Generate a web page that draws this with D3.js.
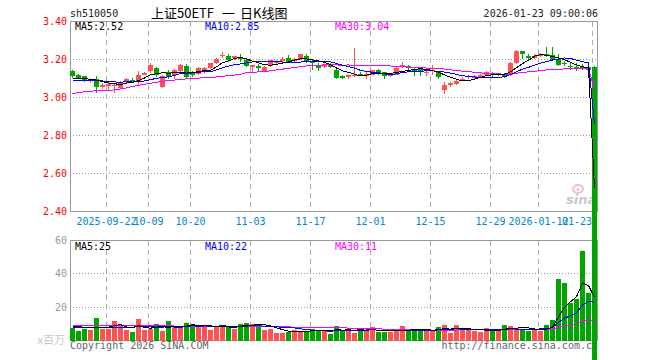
<!DOCTYPE html>
<html>
<head>
<meta charset="utf-8">
<script src="https://cdn.jsdelivr.net/npm/d3@7"></script>
<style>
    body { margin: 0; background: #fff; }
    svg { display: block; }
    text { font-family: "DejaVu Sans Mono", monospace; font-size: 10px; }
</style>
</head>
<body>
<div id="chart"></div>
<script>
// daily K-line, 88 trading days (2025-09-12 .. 2026-01-23)
var openPrices = [3.139, 3.118, 3.111, 3.091, 3.100, 3.056, 3.061, 3.061, 3.051, 3.079,
    3.092, 3.079, 3.120, 3.138, 3.153, 3.056, 3.135, 3.117, 3.138, 3.167,
    3.131, 3.126, 3.132, 3.153, 3.179, 3.217, 3.217, 3.209, 3.210, 3.200,
    3.161, 3.167, 3.138, 3.167, 3.180, 3.193, 3.210, 3.190, 3.202, 3.217,
    3.191, 3.167, 3.161, 3.170, 3.144, 3.112, 3.109, 3.114, 3.126, 3.114,
    3.121, 3.144, 3.132, 3.114, 3.121, 3.158, 3.165, 3.149, 3.153, 3.130,
    3.139, 3.135, 3.039, 3.065, 3.072, 3.095, 3.108, 3.105, 3.109, 3.118,
    3.126, 3.118, 3.121, 3.118, 3.182, 3.244, 3.218, 3.210, 3.219, 3.228,
    3.223, 3.205, 3.183, 3.165, 3.158, 3.158, 3.158, 3.161];
var highPrices = [3.147, 3.123, 3.114, 3.104, 3.112, 3.074, 3.074, 3.075, 3.086, 3.104,
    3.104, 3.140, 3.133, 3.180, 3.158, 3.117, 3.144, 3.149, 3.175, 3.174,
    3.138, 3.158, 3.158, 3.184, 3.210, 3.240, 3.230, 3.219, 3.230, 3.205,
    3.172, 3.174, 3.165, 3.200, 3.198, 3.212, 3.222, 3.210, 3.231, 3.231,
    3.196, 3.179, 3.177, 3.180, 3.150, 3.116, 3.121, 3.261, 3.135, 3.135,
    3.147, 3.149, 3.135, 3.126, 3.161, 3.188, 3.170, 3.156, 3.156, 3.144,
    3.170, 3.140, 3.082, 3.082, 3.093, 3.109, 3.118, 3.118, 3.122, 3.140,
    3.135, 3.130, 3.130, 3.187, 3.250, 3.246, 3.228, 3.231, 3.235, 3.267,
    3.267, 3.231, 3.193, 3.179, 3.179, 3.175, 3.175, 3.165];
var lowPrices = [3.104, 3.095, 3.083, 3.074, 3.026, 3.047, 3.040, 3.026, 3.045, 3.075,
    3.075, 3.058, 3.116, 3.130, 3.110, 3.052, 3.100, 3.100, 3.130, 3.100,
    3.108, 3.120, 3.128, 3.150, 3.175, 3.210, 3.188, 3.196, 3.188, 3.163,
    3.136, 3.140, 3.135, 3.163, 3.177, 3.187, 3.183, 3.185, 3.198, 3.184,
    3.147, 3.140, 3.156, 3.155, 3.100, 3.098, 3.098, 3.109, 3.114, 3.100,
    3.117, 3.121, 3.100, 3.109, 3.117, 3.154, 3.144, 3.114, 3.114, 3.114,
    3.121, 3.095, 3.016, 3.056, 3.065, 3.086, 3.100, 3.100, 3.105, 3.114,
    3.109, 3.114, 3.105, 3.114, 3.178, 3.205, 3.190, 3.205, 3.214, 3.214,
    3.196, 3.165, 3.167, 3.144, 3.142, 3.144, 3.135, 0];
var closePrices = [3.114, 3.100, 3.090, 3.100, 3.056, 3.068, 3.070, 3.068, 3.079, 3.095,
    3.086, 3.121, 3.130, 3.170, 3.117, 3.114, 3.108, 3.144, 3.170, 3.108,
    3.117, 3.153, 3.153, 3.179, 3.205, 3.226, 3.200, 3.217, 3.205, 3.167,
    3.170, 3.157, 3.161, 3.196, 3.188, 3.205, 3.188, 3.205, 3.228, 3.191,
    3.179, 3.157, 3.173, 3.163, 3.105, 3.105, 3.118, 3.121, 3.118, 3.126,
    3.144, 3.126, 3.114, 3.121, 3.156, 3.170, 3.153, 3.140, 3.139, 3.135,
    3.144, 3.109, 3.068, 3.074, 3.086, 3.100, 3.114, 3.111, 3.118, 3.135,
    3.118, 3.126, 3.114, 3.182, 3.244, 3.228, 3.210, 3.221, 3.228, 3.221,
    3.200, 3.170, 3.176, 3.158, 3.153, 3.151, 3.147, 0];
// volume, millions
var volumes = [7.5, 5.6, 6.8, 6.2, 13.5, 6.8, 6.8, 11.5, 9.1, 6.2,
    5.0, 12.7, 6.2, 6.8, 9.7, 5.6, 11.5, 8.1, 7.5, 10.7,
    9.5, 9.1, 8.7, 6.2, 8.1, 9.5, 8.1, 6.8, 10.1, 10.7,
    10.1, 10.1, 6.2, 6.8, 4.8, 4.8, 5.2, 6.2, 5.2, 5.6,
    7.2, 6.2, 6.2, 4.2, 8.6, 5.8, 7.2, 4.8, 6.6, 6.2,
    7.9, 5.0, 5.0, 5.0, 6.4, 8.6, 6.0, 6.0, 6.0, 6.6,
    6.0, 7.9, 9.1, 4.6, 9.1, 6.2, 6.6, 6.0, 5.0, 7.4,
    5.6, 6.0, 9.5, 8.7, 7.5, 6.4, 5.6, 6.4, 6.0, 9.6,
    12.2, 36.8, 34.8, 22.8, 24.8, 53.6, 28.6, 0];

// moving averages before a full window is on screen
var ma5Head = [3.100, 3.100, 3.100, 3.095];
var ma10Head = [3.090, 3.090, 3.088, 3.088, 3.087, 3.087, 3.085, 3.082, 3.080];
var ma30Head = [3.021, 3.025, 3.030, 3.033, 3.036, 3.037, 3.038, 3.040, 3.045, 3.050,
    3.058, 3.064, 3.070, 3.075, 3.080, 3.085, 3.090, 3.092, 3.095, 3.098,
    3.100, 3.102, 3.104, 3.106, 3.108, 3.112, 3.115, 3.118, 3.122];
var volMa5Head = [8.2, 8.2, 8.0, 7.8];
var volMa10Head = [7.6, 7.6, 7.6, 7.6, 7.7, 7.7, 7.8, 7.8, 7.9];
var volMa30Head = [9.0, 9.0, 9.0, 9.0, 9.0, 9.0, 9.0, 8.9, 8.9, 8.9,
    8.9, 8.9, 8.8, 8.8, 8.8, 8.8, 8.8, 8.7, 8.7, 8.7,
    8.7, 8.7, 8.6, 8.6, 8.6, 8.6, 8.5, 8.5, 8.5];

var priceTicks = [3.40, 3.20, 3.00, 2.80, 2.60, 2.40];
var volTicks = [60, 40, 20];
var dateTickIndex = [6, 13, 20, 30, 40, 50, 60, 70, 78, 87];
var dateTickLabels = ['2025-09-22', '10-09', '10-20', '11-03', '11-17', '12-01', '12-15', '12-29', '2026-01-12', '01-23'];
var priceMaLabels = ['MA5:2.52', 'MA10:2.85', 'MA30:3.04'];
var volMaLabels = ['MA5:25', 'MA10:22', 'MA30:11'];
var titleParts = ['上证50ETF', '一', '日K线图'];

(function () {
    "use strict";

    var config = {
        width: 660,
        height: 360,
        left: 70,
        step: 6,
        barWidth: 5,
        main: { top: 21.5, bottom: 211.5 },
        vol: { top: 240.5, bottom: 340.5 },
        red: '#ff5252',
        green: '#00a600',
        maColors: ['#000000', '#0000ff', '#ff00ff'],
        grid: '#aaaaaa'
    };

    function movingAvg(values, n, head) {
        return values.map(function (v, i) {
            if (i < n - 1) return head[i];
            return d3.mean(values.slice(i - n + 1, i + 1));
        });
    }

    function draw() {
        var n = closePrices.length;
        var right = config.left + config.step * (n - 1) + config.barWidth + 0.5;

        var svg = d3.select('#chart').append('svg')
            .attr('width', config.width)
            .attr('height', config.height);

        var x = d3.scaleLinear()
            .domain([0, n])
            .range([config.left, config.left + config.step * n]);
        var y = d3.scaleLinear()
            .domain([2.40, 3.40])
            .range([config.main.bottom, config.main.top]);
        var yVol = d3.scaleLinear()
            .domain([0, 60])
            .range([config.vol.bottom, config.vol.top]);

        var isUp = function (i) { return closePrices[i] >= openPrices[i]; };
        var idx = d3.range(n);

        // grid
        var grid = svg.append('g').attr('shape-rendering', 'crispEdges');
        grid.selectAll('.hgrid')
            .data(priceTicks.slice(1, -1))
            .enter().append('line')
            .attr('x1', config.left).attr('x2', right)
            .attr('y1', function (d) { return y(d); })
            .attr('y2', function (d) { return y(d); })
            .attr('stroke', '#999').attr('stroke-dasharray', '1,2');
        grid.selectAll('.vgrid-h')
            .data([40, 20])
            .enter().append('line')
            .attr('x1', config.left).attr('x2', right)
            .attr('y1', function (d) { return yVol(d); })
            .attr('y2', function (d) { return yVol(d); })
            .attr('stroke', '#999').attr('stroke-dasharray', '1,2');
        [config.main, config.vol].forEach(function (p) {
            grid.selectAll(null)
                .data(dateTickIndex)
                .enter().append('line')
                .attr('x1', function (d) { return x(d) + 0.5; })
                .attr('x2', function (d) { return x(d) + 0.5; })
                .attr('y1', p.top).attr('y2', p.bottom)
                .attr('stroke', config.grid).attr('stroke-dasharray', '5,4');
            grid.append('rect')
                .attr('x', config.left + 0.5).attr('y', p.top)
                .attr('width', right - config.left - 0.5).attr('height', p.bottom - p.top)
                .attr('fill', 'none').attr('stroke', '#999');
        });

        // header
        svg.append('text').attr('x', 70).attr('y', 17).attr('font-size', '11px')
            .attr('fill', '#222').text('sh510050');
        var titleX = [151, 222, 240];
        titleParts.forEach(function (t, i) {
            svg.append('text').attr('x', titleX[i]).attr('y', 18)
                .style('font-family', '"Noto Sans CJK SC", sans-serif').style('font-size', '13px')
                .attr('fill', '#000').text(t);
        });
        svg.append('text').attr('x', 598).attr('y', 17).attr('text-anchor', 'end')
            .attr('font-size', '11px').attr('fill', '#222').text('2026-01-23 09:00:06');

        // axis labels
        svg.selectAll('.plabel')
            .data(priceTicks)
            .enter().append('text')
            .attr('x', 67).attr('y', function (d) { return y(d); })
            .attr('dy', '0.35em').attr('text-anchor', 'end')
            .attr('fill', '#ff0000')
            .text(function (d) { return d3.format('.2f')(d); });
        svg.selectAll('.vlabel')
            .data(volTicks)
            .enter().append('text')
            .attr('x', 67).attr('y', function (d) { return yVol(d); })
            .attr('dy', '0.35em').attr('text-anchor', 'end')
            .attr('fill', '#999')
            .text(function (d) { return d; });
        svg.append('text').attr('x', 65).attr('y', yVol(0)).attr('dy', '0.35em')
            .attr('text-anchor', 'end')
            .style('font-family', '"Noto Sans CJK SC", sans-serif').style('font-size', '11px')
            .attr('fill', '#c8c8c8').text('x百万');
        svg.selectAll('.dlabel')
            .data(dateTickIndex)
            .enter().append('text')
            .attr('x', function (d, i) { return i === dateTickIndex.length - 1 ? x(d) : x(d) + 0.5; })
            .attr('y', 225)
            .attr('text-anchor', function (d, i) { return i === dateTickIndex.length - 1 ? 'end' : 'middle'; })
            .attr('fill', '#0088d0')
            .text(function (d, i) { return dateTickLabels[i]; });

        // legends
        var legendX = [75, 205, 335];
        priceMaLabels.forEach(function (t, i) {
            svg.append('text').attr('x', legendX[i]).attr('y', 30)
                .attr('fill', config.maColors[i]).text(t);
        });
        volMaLabels.forEach(function (t, i) {
            svg.append('text').attr('x', legendX[i]).attr('y', 250)
                .attr('fill', config.maColors[i]).text(t);
        });

        // footer
        svg.append('text').attr('x', 70).attr('y', 349).attr('fill', '#666')
            .text('Copyright 2026 SINA.COM');
        svg.append('text').attr('x', 598).attr('y', 349).attr('text-anchor', 'end')
            .attr('fill', '#666').text('http://finance.sina.com.cn');

        // sina watermark
        var mark = svg.append('g').attr('opacity', 0.4);
        mark.append('ellipse').attr('cx', 578).attr('cy', 189).attr('rx', 5).attr('ry', 4)
            .attr('fill', 'none').attr('stroke', '#e06060').attr('stroke-width', 2);
        mark.append('circle').attr('cx', 578).attr('cy', 189.5).attr('r', 1.5).attr('fill', '#e06060');
        mark.append('text').attr('x', 566).attr('y', 204)
            .style('font-family', '"DejaVu Sans", sans-serif').style('font-size', '13px')
            .style('font-style', 'italic').style('font-weight', 'bold')
            .attr('fill', '#777').text('sina');

        // volume bars
        svg.append('g').attr('shape-rendering', 'crispEdges')
            .selectAll('rect')
            .data(idx)
            .enter().append('rect')
            .attr('x', function (i) { return x(i); })
            .attr('y', function (i) { return yVol(volumes[i]); })
            .attr('width', config.barWidth)
            .attr('height', function (i) { return yVol(0) - yVol(volumes[i]); })
            .attr('fill', function (i) { return isUp(i) ? config.red : config.green; });

        // candles
        var candles = svg.append('g').attr('shape-rendering', 'crispEdges')
            .selectAll('g')
            .data(idx)
            .enter().append('g');
        candles.append('line')
            .attr('x1', function (i) { return x(i) + 2.5; })
            .attr('x2', function (i) { return x(i) + 2.5; })
            .attr('y1', function (i) { return y(highPrices[i]); })
            .attr('y2', function (i) { return y(lowPrices[i]); })
            .attr('stroke', function (i) { return isUp(i) ? config.red : config.green; });
        candles.append('rect')
            .attr('x', function (i) { return x(i); })
            .attr('y', function (i) { return y(Math.max(openPrices[i], closePrices[i])); })
            .attr('width', config.barWidth)
            .attr('height', function (i) {
                return Math.max(1, Math.abs(y(openPrices[i]) - y(closePrices[i])));
            })
            .attr('fill', function (i) { return isUp(i) ? config.red : config.green; });

        // moving average lines
        var priceMas = [movingAvg(closePrices, 5, ma5Head), movingAvg(closePrices, 10, ma10Head), movingAvg(closePrices, 30, ma30Head)];
        var volMas = [movingAvg(volumes, 5, volMa5Head), movingAvg(volumes, 10, volMa10Head), movingAvg(volumes, 30, volMa30Head)];

        var priceLine = d3.line()
            .x(function (d, i) { return x(i) + 2.5; })
            .y(function (d) { return y(d); });
        var volLine = d3.line()
            .x(function (d, i) { return x(i) + 2.5; })
            .y(function (d) { return yVol(d); });

        [2, 1, 0].forEach(function (k) {
            svg.append('path').attr('d', priceLine(priceMas[k]))
                .attr('fill', 'none').attr('stroke', config.maColors[k])
                .attr('stroke-width', 1).attr('shape-rendering', 'crispEdges');
            svg.append('path').attr('d', volLine(volMas[k]))
                .attr('fill', 'none').attr('stroke', config.maColors[k])
                .attr('stroke-width', 1).attr('shape-rendering', 'crispEdges');
        });
    }

    draw();
})();
</script>
</body>
</html>
